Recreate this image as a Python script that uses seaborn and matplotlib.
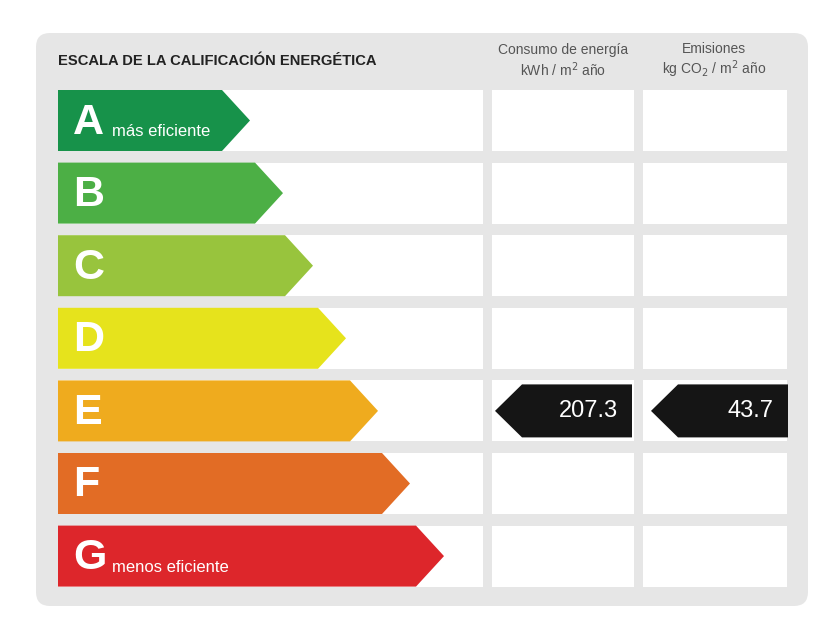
import matplotlib
matplotlib.use("Agg")
import matplotlib.pyplot as plt
import seaborn as sns
from matplotlib.patches import Polygon, FancyBboxPatch, Rectangle

sns.set_theme(style="white")
plt.rcParams['font.family'] = ['Liberation Sans', 'DejaVu Sans']

# datos
letters = ['A', 'B', 'C', 'D', 'E', 'F', 'G']
arrow_ends = [250, 283, 313, 346, 378, 410, 444]  # extremo de cada flecha (px)
colors = ['#17924a', '#4caf45', '#98c43d', '#e6e31c', '#efab1e', '#e26c25', '#dd262b']
subtitles = {'A': 'más eficiente', 'G': 'menos eficiente'}
rating = 'E'
consumo = 207.3
emisiones = 43.7

fig = plt.figure(figsize=(8.4, 6.3), dpi=100)
ax = fig.add_axes([0, 0, 1, 1])
ax.set_xlim(0, 840)
ax.set_ylim(630, 0)
ax.axis('off')

ax.add_patch(FancyBboxPatch((36, 33), 772, 573, boxstyle="round,pad=0,rounding_size=14",
                            fc='#e6e6e6', ec='none'))
ax.text(58, 61, 'ESCALA DE LA CALIFICACIÓN ENERGÉTICA', fontsize=10.6, fontweight='bold',
        color='#222222', va='center')
ax.text(563, 61, 'Consumo de energía\nkWh / m$^2$ año', fontsize=10, color='#555555',
        ha='center', va='center', linespacing=1.2)
ax.text(714, 61, 'Emisiones\nkg CO$_2$ / m$^2$ año', fontsize=10, color='#555555',
        ha='center', va='center', linespacing=1.2)

top0, pitch, h = 90, 72.6, 61
for i, (let, end, col) in enumerate(zip(letters, arrow_ends, colors)):
    y0 = top0 + i * pitch
    y1 = y0 + h
    ym = (y0 + y1) / 2
    for x0, x1 in [(58, 483), (492, 634), (643, 787)]:
        ax.add_patch(Rectangle((x0, y0), x1 - x0, h, fc='white', ec='none'))
    ax.add_patch(Polygon([(58, y0), (end - 28, y0), (end, ym), (end - 28, y1), (58, y1)],
                         closed=True, fc=col, ec='none'))
    ax.text(73, ym + 2, let, fontsize=31, fontweight='bold', color='white', va='center')
    if let in subtitles:
        ax.text(112, ym + 11, subtitles[let], fontsize=12, color='white', va='center')
    if let == rating:
        for tip, x1, val in [(495, 632, consumo), (651, 788, emisiones)]:
            ax.add_patch(Polygon([(tip, ym), (tip + 27, y0 + 4), (x1, y0 + 4), (x1, y1 - 4),
                                  (tip + 27, y1 - 4)], closed=True, fc='#151515', ec='none'))
            ax.text(x1 - 14, ym, f'{val:.1f}', fontsize=17, color='white', ha='right', va='center')

fig.savefig('out.png', dpi=100)
